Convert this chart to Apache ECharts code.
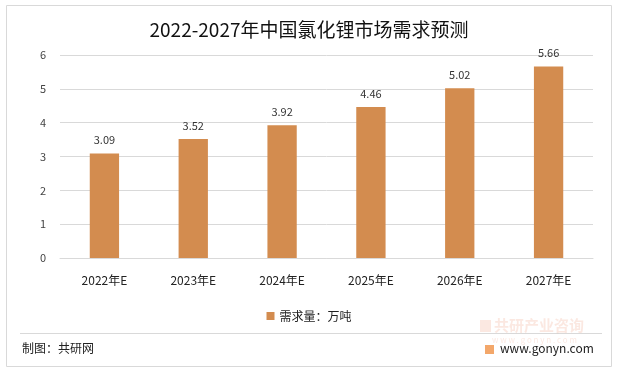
<!DOCTYPE html>
<html><head><meta charset="utf-8">
<script src="https://cdn.jsdelivr.net/npm/echarts@6/dist/echarts.min.js"></script>
<style>html,body{margin:0;padding:0;background:#fff}#c{width:618px;height:371px}</style>
</head><body><div id="c"></div>
<script>
const categories = ['2022年E','2023年E','2024年E','2025年E','2026年E','2027年E'];
const demand = [3.09, 3.52, 3.92, 4.46, 5.02, 5.66];
const yTicks = [0,1,2,3,4,5,6];
const seriesName = '需求量：万吨';
const titleText = '2022-2027年中国氯化锂市场需求预测';
const sourceText = '制图：共研网';
const siteText = 'www.gonyn.com';
const wmText = '共研产业咨询';
const wmSite = 'w w w . g o n y n . c o m';

const chart = echarts.init(document.getElementById('c'));
const font = '"Microsoft YaHei","Noto Sans CJK SC","DejaVu Sans",sans-serif';
chart.setOption({
  animation:false,
  title:{text:titleText,left:'center',top:15,textStyle:{fontSize:19,fontWeight:'normal',color:'#111',fontFamily:font}},
  legend:{bottom:44,left:'center',itemWidth:8,itemHeight:8,icon:'rect',itemGap:4,
    textStyle:{fontSize:12,color:'#222',fontFamily:font},data:[seriesName]},
  grid:{left:60,right:25,top:55,bottom:113},
  xAxis:{type:'category',data:categories,axisTick:{show:false},
    axisLine:{lineStyle:{color:'#d9d9d9'}},
    axisLabel:{fontSize:12,color:'#222',margin:16,fontFamily:font}},
  yAxis:{type:'value',min:yTicks[0],max:yTicks[yTicks.length-1],interval:1,
    axisLine:{show:false},axisTick:{show:false},
    splitLine:{lineStyle:{color:'#d9d9d9'}},
    axisLabel:{fontSize:11,color:'#444',margin:14,fontFamily:font}},
  series:[{name:seriesName,type:'bar',data:demand,barWidth:'33%',
    itemStyle:{color:'#D38C4F'},
    label:{show:true,position:'top',distance:8,fontSize:11,color:'#333',fontFamily:font}}],
  graphic:[
    {type:'rect',shape:{x:6.5,y:5.5,width:605,height:361},style:{fill:null,stroke:'#d9d9d9',lineWidth:1},silent:true,z:-1},
    {type:'line',shape:{x1:20,y1:333.5,x2:602,y2:333.5},style:{stroke:'#d9d9d9',lineWidth:1}},
    {type:'text',left:22,top:342,style:{text:sourceText,fill:'#222',font:'12px '+font}},
    {type:'text',left:500,top:342,style:{text:siteText,fill:'#222',font:'12px '+font}},
    {type:'rect',shape:{x:485,y:345,width:9,height:9},style:{fill:'#F3A76A'}},
    {type:'text',left:494,top:318,style:{text:wmText,fill:'rgba(235,130,90,0.18)',font:'bold 15px '+font}},
    {type:'rect',shape:{x:480,y:320,width:11,height:12},style:{fill:'rgba(235,130,90,0.18)'}},
    {type:'text',left:492,top:336,style:{text:wmSite,fill:'rgba(235,130,90,0.18)',font:'8px '+font}}
  ]
});
</script></body></html>
